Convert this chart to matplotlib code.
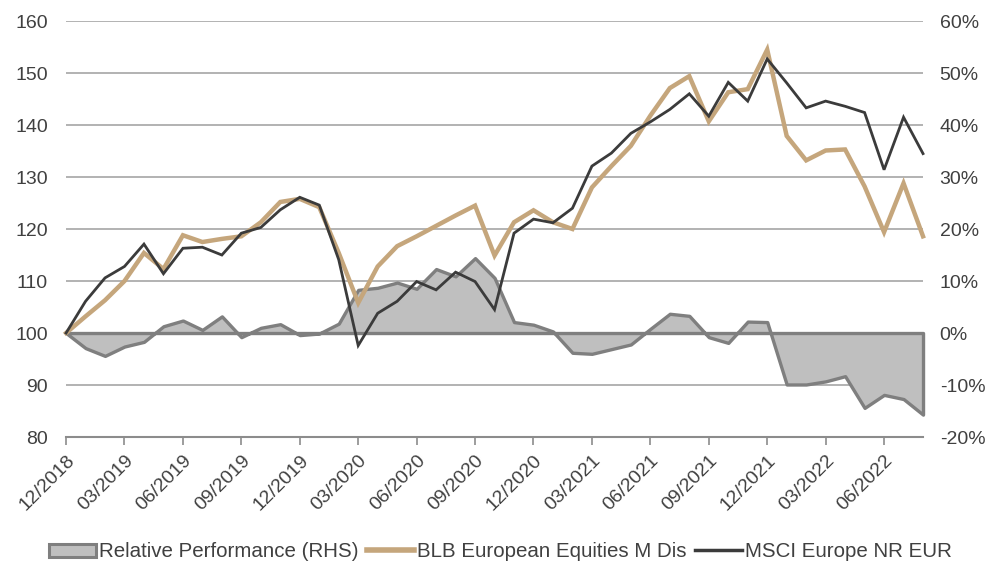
import matplotlib.pyplot as plt
import numpy as np
from matplotlib.patches import Patch
from matplotlib.lines import Line2D

plt.rcParams['font.family'] = ['Liberation Sans', 'DejaVu Sans']

# monthly points, 12/2018 .. 08/2022
months = list(range(45))
tick_pos = list(range(0, 45, 3))
tick_labels = ['12/2018', '03/2019', '06/2019', '09/2019', '12/2019', '03/2020', '06/2020',
               '09/2020', '12/2020', '03/2021', '06/2021', '09/2021', '12/2021', '03/2022', '06/2022']

blb = [100, 103.2, 106.3, 110.0, 115.4, 112.3, 118.8, 117.5, 118.1, 118.6,
       121.3, 125.2, 125.8, 124.2, 115.4, 105.8, 112.8, 116.7, 118.6, 120.6,
       122.6, 124.5, 114.9, 121.3, 123.6, 121.3, 120.0, 128.0, 132.1, 136.0,
       141.8, 147.1, 149.4, 140.7, 146.3, 146.9, 154.5, 137.9, 133.2, 135.1,
       135.3, 128.2, 119.4, 128.8, 118.6]

msci = [100, 106.1, 110.6, 112.8, 117.1, 111.4, 116.3, 116.5, 115.0, 119.2,
        120.3, 123.7, 126.1, 124.6, 114.1, 97.6, 103.8, 106.1, 109.9, 108.3,
        111.7, 109.9, 104.5, 119.2, 121.9, 121.2, 124.0, 132.1, 134.6, 138.4,
        140.6, 143.0, 146.0, 141.7, 148.2, 144.6, 152.7, 148.1, 143.3, 144.6,
        143.6, 142.4, 131.4, 141.5, 134.5]

# relative performance in %, right axis
rel = [0, -2.9, -4.4, -2.6, -1.7, 1.3, 2.4, 0.6, 3.2, -0.8,
       1.0, 1.7, -0.4, -0.1, 1.8, 8.3, 8.7, 9.7, 8.5, 12.3,
       10.9, 14.4, 10.6, 2.1, 1.6, 0.3, -3.8, -4.0, -3.1, -2.2,
       0.8, 3.7, 3.3, -0.8, -1.9, 2.2, 2.1, -9.9, -9.9, -9.3,
       -8.3, -14.4, -11.9, -12.7, -15.7]

tan = '#c5a67c'
dark = '#3b3b3b'
txt = '#404040'
grid = '#a6a6a6'

fig = plt.figure(figsize=(10.01, 5.62), dpi=100)
ax = fig.add_axes([0.066, 0.2224, 0.8561, 0.7402])
ax2 = ax.twinx()

# area on the right axis, drawn behind
ax2.set_zorder(1)
ax.set_zorder(2)
ax.patch.set_visible(False)

ax2.fill_between(months, rel, 0, facecolor='#bfbfbf', edgecolor='#7f7f7f', lw=2.4, clip_on=False)
ax2.set_ylim(-20, 60)
ax2.set_yticks(range(-20, 61, 10))
ax2.set_yticklabels([f'{v}%' for v in range(-20, 61, 10)])

ax.plot(months, blb, color=tan, lw=3.2, solid_joinstyle='miter', clip_on=False)
ax.plot(months, msci, color=dark, lw=2.0, solid_joinstyle='miter', clip_on=False)
ax.set_ylim(80, 160)
ax.set_yticks(range(80, 161, 10))
ax.set_xlim(0, 44)

for v in range(90, 161, 10):
    ax2.axhline((v - 100), color=grid, lw=1.2, zorder=0)

for a in (ax, ax2):
    for s in ('top', 'left', 'right', 'bottom'):
        a.spines[s].set_visible(False)
ax.tick_params(axis='y', length=0, labelsize=14, colors=txt, pad=13)
ax2.tick_params(axis='y', length=0, labelsize=14, colors=txt, pad=12)

ax.axhline(80, color='#8c8c8c', lw=1.5, clip_on=False)
ax.set_xticks(tick_pos)
ax.set_xticklabels(tick_labels, rotation=45, ha='right', va='top', rotation_mode='anchor')
ax.tick_params(axis='x', length=6, width=1.2, color='#8c8c8c', labelsize=14, labelcolor=txt, pad=5)

handles = [Patch(facecolor='#bfbfbf', edgecolor='#7f7f7f', lw=2.2),
           Line2D([], [], color=tan, lw=4),
           Line2D([], [], color=dark, lw=2.5)]
labels = ['Relative Performance (RHS)', 'BLB European Equities M Dis', 'MSCI Europe NR EUR']
fig.legend(handles, labels, loc='center', bbox_to_anchor=(0.5, 0.018), ncol=3, frameon=False,
           fontsize=14.8, labelcolor=txt, handlelength=2.3, handleheight=0.6,
           handletextpad=0.15, columnspacing=0.4, borderpad=0)

fig.savefig('out.png', dpi=100)
